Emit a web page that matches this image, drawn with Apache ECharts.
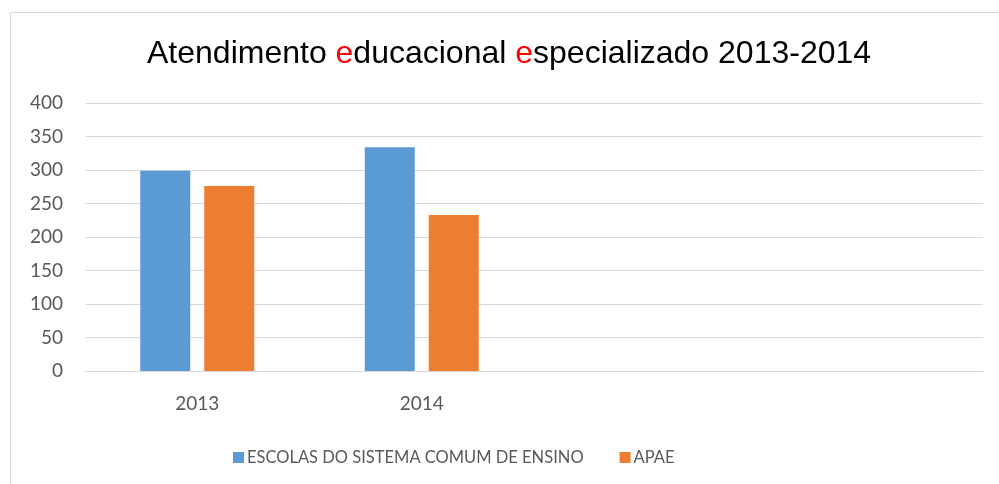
<!DOCTYPE html>
<html>
<head>
<meta charset="utf-8">
<title>Atendimento educacional especializado 2013-2014</title>
<script src="https://cdn.jsdelivr.net/npm/echarts@6/dist/echarts.min.js"></script>
<style>
  html, body { margin: 0; padding: 0; background: #fff; }
</style>
</head>
<body>
<div id="myChart" style="width: 999px; height: 484px;"></div>
<script>
// dados
var categories = ["2013", "2014", "", ""];
var escolas = [299, 334, null, null];
var apae = [276, 233, null, null];
var yTicks = { min: 0, max: 400, interval: 50 };

var myChart = echarts.init(document.getElementById("myChart"));

myChart.setOption({
  animation: false,
  backgroundColor: "#fff",
  textStyle: { fontFamily: "Lato" },
  graphic: [
    {
      // moldura do gráfico
      type: "rect",
      shape: { x: 10.5, y: 12.5, width: 1000, height: 500 },
      style: { fill: "none", stroke: "#d9d9d9", lineWidth: 1 }
    }
  ],
  title: {
    text: "Atendimento {r|e}ducacional {r|e}specializado 2013-2014",
    left: 142,
    top: 33,
    textStyle: {
      fontFamily: "Liberation Sans",
      fontSize: 32,
      fontWeight: "normal",
      color: "#000",
      rich: {
        r: { color: "#ff0000", fontFamily: "Liberation Sans", fontSize: 32 }
      }
    }
  },
  legend: {
    bottom: 13,
    left: 228,
    itemWidth: 11,
    itemHeight: 11,
    itemGap: 36,
    icon: "rect",
    textStyle: { fontSize: 16.5, color: "#595959", fontFamily: "Lato", padding: [0, 0, 0, -2] },
    data: ["ESCOLAS DO SISTEMA COMUM DE ENSINO", "APAE"]
  },
  grid: {
    left: 85,
    right: 16,
    top: 103,
    bottom: 113
  },
  xAxis: {
    type: "category",
    data: categories,
    axisLine: { lineStyle: { color: "#d9d9d9", width: 1 } },
    axisTick: { show: false },
    axisLabel: { fontSize: 19, color: "#595959", margin: 23 }
  },
  yAxis: {
    type: "value",
    min: yTicks.min,
    max: yTicks.max,
    interval: yTicks.interval,
    axisLine: { show: false },
    axisTick: { show: false },
    splitLine: { lineStyle: { color: "#d9d9d9", width: 1 } },
    axisLabel: { fontSize: 19, color: "#595959", margin: 22 }
  },
  series: [
    {
      name: "ESCOLAS DO SISTEMA COMUM DE ENSINO",
      type: "bar",
      data: escolas,
      barWidth: 50,
      barGap: "28%",
      itemStyle: { color: "#5b9bd5" }
    },
    {
      name: "APAE",
      type: "bar",
      data: apae,
      barWidth: 50,
      itemStyle: { color: "#ed7d31" }
    }
  ]
});
</script>
</body>
</html>
